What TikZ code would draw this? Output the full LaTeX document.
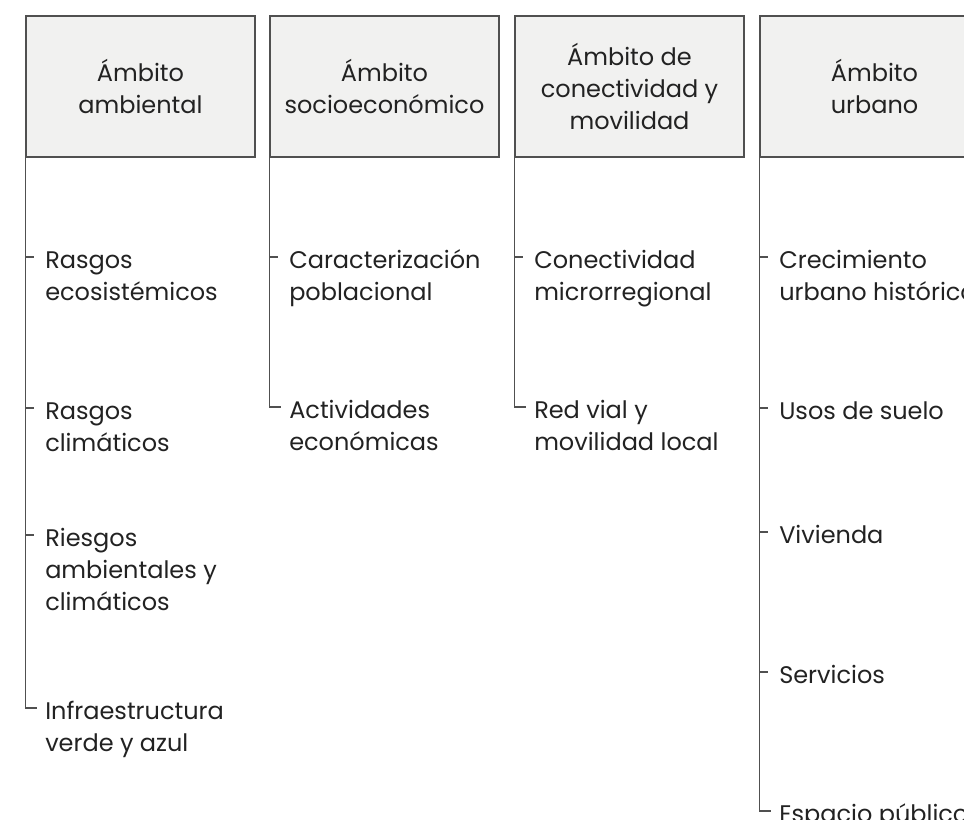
\documentclass[tikz,border=0pt]{standalone}
\usepackage{fontspec}
\setmainfont{Poppins}
\usepackage{xcolor}
\usepackage{tikz}
\usetikzlibrary{positioning,calc}
\definecolor{boxfill}{HTML}{F1F1F0}
\definecolor{linegray}{HTML}{505050}
\definecolor{textgray}{HTML}{222222}
\newcommand{\tope}{\rule{0pt}{16pt}}
\tikzset{ambito/.style={rectangle,draw=linegray,fill=boxfill,line width=0.9pt,minimum width=171.75pt,minimum height=105.75pt,align=center,text=textgray,font=\fontsize{18}{24}\selectfont},
  tema/.style={anchor=north west,align=left,inner sep=0pt,text=textgray,font=\fontsize{18}{24}\selectfont},
  rama/.style={draw=linegray,line width=0.9pt}}

\begin{document}
\begin{tikzpicture}[x=0.75pt,y=-0.75pt]
    \useasboundingbox (0,0) rectangle (964,820);
    \clip (0,0) rectangle (964,820);
    % encabezados
    \node[ambito] (amb) at (140.5,86.5) {Ámbito\\ambiental};
    \node[ambito] (soc) at (384.5,86.5) {Ámbito\\socioeconómico};
    \node[ambito] (con) at (629.5,86.5) {Ámbito de\\conectividad y\\movilidad};
    \node[ambito] (urb) at (874.5,86.5) {Ámbito\\urbano};

    % ambiental
    \coordinate (a1) at (26,257);
    \coordinate (a2) at (26,408);
    \coordinate (a3) at (26,535);
    \coordinate (a4) at (26,708);
    \node[tema] (ra) at ($(a1)+(19,-10.6)$) {\tope Rasgos\\ecosistémicos};
    \node[tema] (rc) at ($(a2)+(19,-10.6)$) {\tope Rasgos\\climáticos};
    \node[tema] (ri) at ($(a3)+(19,-10.6)$) {\tope Riesgos\\ambientales y\\climáticos};
    \node[tema] (iv) at ($(a4)+(19,-10.6)$) {\tope Infraestructura\\verde y azul};
    \draw[rama] (amb.south west) |- ([xshift=8]a4);
    \draw[rama] (a1) -- +(8,0);
    \draw[rama] (a2) -- +(8,0);
    \draw[rama] (a3) -- +(8,0);

    % socioeconomico
    \coordinate (s1) at (270,257);
    \coordinate (s2) at (270,407);
    \node[tema] (cp) at ($(s1)+(19,-10.6)$) {\tope Caracterización\\poblacional};
    \node[tema] (ae) at ($(s2)+(19,-10.6)$) {\tope Actividades\\económicas};
    \draw[rama] (soc.south west) |- ([xshift=8]s2);
    \draw[rama] (s1) -- +(8,0);

    % conectividad
    \coordinate (c1) at (515,257);
    \coordinate (c2) at (515,407);
    \node[tema] (cm) at ($(c1)+(19,-10.6)$) {\tope Conectividad\\microrregional};
    \node[tema] (rv) at ($(c2)+(19,-10.6)$) {\tope Red vial y\\movilidad local};
    \draw[rama] (con.south west) |- ([xshift=8]c2);
    \draw[rama] (c1) -- +(8,0);

    % urbano
    \coordinate (u1) at (760,257);
    \coordinate (u2) at (760,408);
    \coordinate (u3) at (760,532);
    \coordinate (u4) at (760,672);
    \coordinate (u5) at (760,811);
    \node[tema] (cu) at ($(u1)+(19,-10.6)$) {\tope Crecimiento\\urbano histórico};
    \node[tema] (us) at ($(u2)+(19,-10.6)$) {\tope Usos de suelo};
    \node[tema] (vi) at ($(u3)+(19,-10.6)$) {\tope Vivienda};
    \node[tema] (se) at ($(u4)+(19,-10.6)$) {\tope Servicios};
    \node[tema] (ep) at ($(u5)+(19,-10.6)$) {\tope Espacio público};
    \draw[rama] (urb.south west) |- ([xshift=8]u5);
    \draw[rama] (u1) -- +(8,0);
    \draw[rama] (u2) -- +(8,0);
    \draw[rama] (u3) -- +(8,0);
    \draw[rama] (u4) -- +(8,0);
\end{tikzpicture}
\end{document}
